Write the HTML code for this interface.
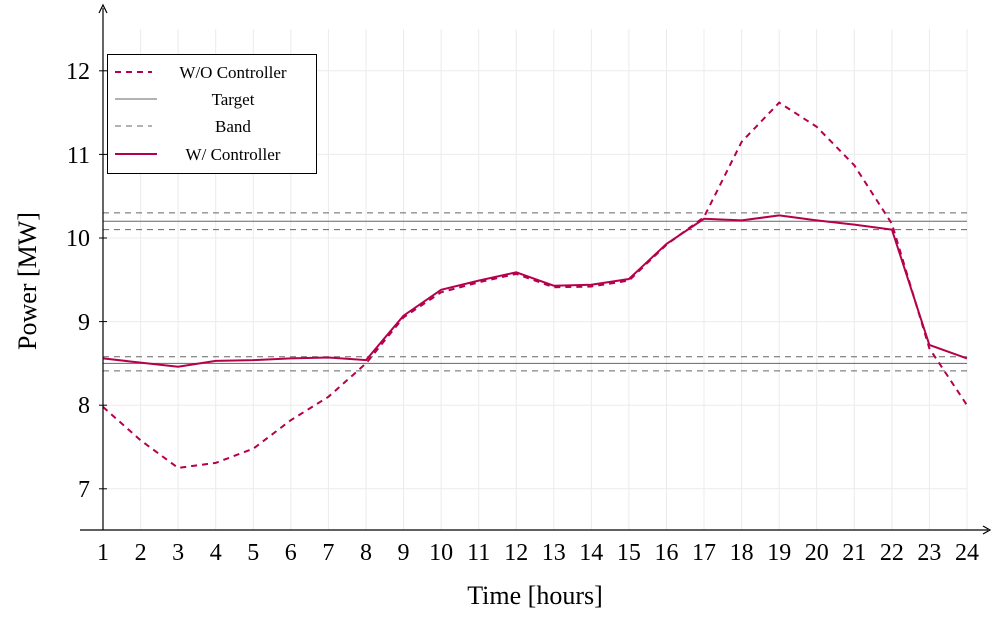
<!DOCTYPE html>
<html><head><style>body{margin:0;background:#fff}svg{display:block}</style></head><body>
<svg width="996" height="619" xmlns="http://www.w3.org/2000/svg" font-family="Liberation Serif, serif">
<g stroke="#ebebeb" stroke-width="1">
<line x1="103" y1="29" x2="103" y2="530"/><line x1="140.6" y1="29" x2="140.6" y2="530"/><line x1="178.1" y1="29" x2="178.1" y2="530"/><line x1="215.7" y1="29" x2="215.7" y2="530"/><line x1="253.3" y1="29" x2="253.3" y2="530"/><line x1="290.8" y1="29" x2="290.8" y2="530"/><line x1="328.4" y1="29" x2="328.4" y2="530"/><line x1="366" y1="29" x2="366" y2="530"/><line x1="403.5" y1="29" x2="403.5" y2="530"/><line x1="441.1" y1="29" x2="441.1" y2="530"/><line x1="478.7" y1="29" x2="478.7" y2="530"/><line x1="516.2" y1="29" x2="516.2" y2="530"/><line x1="553.8" y1="29" x2="553.8" y2="530"/><line x1="591.3" y1="29" x2="591.3" y2="530"/><line x1="628.9" y1="29" x2="628.9" y2="530"/><line x1="666.5" y1="29" x2="666.5" y2="530"/><line x1="704" y1="29" x2="704" y2="530"/><line x1="741.6" y1="29" x2="741.6" y2="530"/><line x1="779.2" y1="29" x2="779.2" y2="530"/><line x1="816.7" y1="29" x2="816.7" y2="530"/><line x1="854.3" y1="29" x2="854.3" y2="530"/><line x1="891.9" y1="29" x2="891.9" y2="530"/><line x1="929.4" y1="29" x2="929.4" y2="530"/><line x1="967" y1="29" x2="967" y2="530"/>
<line x1="103" y1="488.8" x2="967" y2="488.8"/><line x1="103" y1="405.2" x2="967" y2="405.2"/><line x1="103" y1="321.6" x2="967" y2="321.6"/><line x1="103" y1="238" x2="967" y2="238"/><line x1="103" y1="154.4" x2="967" y2="154.4"/><line x1="103" y1="70.8" x2="967" y2="70.8"/>
</g>
<g stroke="#666" stroke-width="1">
<line x1="103" y1="212.9" x2="967" y2="212.9" stroke-dasharray="6,5"/>
<line x1="103" y1="229.6" x2="967" y2="229.6" stroke-dasharray="6,5"/>
<line x1="103" y1="356.7" x2="967" y2="356.7" stroke-dasharray="6,5"/>
<line x1="103" y1="370.9" x2="967" y2="370.9" stroke-dasharray="6,5"/>
<line x1="103" y1="221.3" x2="967" y2="221.3"/>
<line x1="103" y1="363.4" x2="967" y2="363.4"/>
</g>
<polyline fill="none" stroke="#b5004b" stroke-width="2" stroke-dasharray="6,5" points="103,406.9 140.6,440.3 178.1,467.9 215.7,462.9 253.3,448.7 290.8,420.2 328.4,396.8 366,363.4 403.5,317.4 441.1,292.3 478.7,282.3 516.2,273.9 553.8,287.3 591.3,286.5 628.9,280.6 666.5,244.7 704,217.1 741.6,141.9 779.2,102.6 816.7,126.8 854.3,165.3 891.9,223.8 929.4,348.4 967,405.2"/>
<polyline fill="none" stroke="#b5004b" stroke-width="2" points="103,358.4 140.6,362.6 178.1,366.7 215.7,360.9 253.3,360.1 290.8,358.4 328.4,357.5 366,360.1 403.5,315.7 441.1,289.8 478.7,280.6 516.2,272.3 553.8,285.7 591.3,284.8 628.9,279 666.5,243.9 704,218.8 741.6,220.4 779.2,215.4 816.7,220.4 854.3,224.6 891.9,229.6 929.4,345 967,358.4"/>
<line x1="80" y1="530" x2="988" y2="530" stroke="#000" stroke-width="1.2"/>
<path d="M983,526 L990,530 L983,534" fill="none" stroke="#000" stroke-width="1.2"/>
<line x1="103" y1="530" x2="103" y2="8" stroke="#000" stroke-width="1.2"/>
<path d="M99,13 L103,5 L107,13" fill="none" stroke="#000" stroke-width="1.2"/>
<g stroke="#000">
<line x1="99" y1="488.8" x2="107" y2="488.8"/><line x1="99" y1="405.2" x2="107" y2="405.2"/><line x1="99" y1="321.6" x2="107" y2="321.6"/><line x1="99" y1="238" x2="107" y2="238"/><line x1="99" y1="154.4" x2="107" y2="154.4"/><line x1="99" y1="70.8" x2="107" y2="70.8"/>
</g>
<g font-size="24" text-anchor="end">
<text x="90" y="497">7</text><text x="90" y="413">8</text><text x="90" y="330">9</text><text x="90" y="246">10</text><text x="90" y="163">11</text><text x="90" y="79">12</text>
</g>
<g font-size="24" text-anchor="middle">
<text x="103" y="560">1</text><text x="140.6" y="560">2</text><text x="178.1" y="560">3</text><text x="215.7" y="560">4</text><text x="253.3" y="560">5</text><text x="290.8" y="560">6</text><text x="328.4" y="560">7</text><text x="366" y="560">8</text><text x="403.5" y="560">9</text><text x="441.1" y="560">10</text><text x="478.7" y="560">11</text><text x="516.2" y="560">12</text><text x="553.8" y="560">13</text><text x="591.3" y="560">14</text><text x="628.9" y="560">15</text><text x="666.5" y="560">16</text><text x="704" y="560">17</text><text x="741.6" y="560">18</text><text x="779.2" y="560">19</text><text x="816.7" y="560">20</text><text x="854.3" y="560">21</text><text x="891.9" y="560">22</text><text x="929.4" y="560">23</text><text x="967" y="560">24</text>
</g>
<text x="535" y="604" font-size="26" text-anchor="middle">Time [hours]</text>
<text transform="translate(36,281) rotate(-90)" font-size="26" text-anchor="middle">Power [MW]</text>
<rect x="107.5" y="54.5" width="209" height="119" fill="#fff" stroke="#000" stroke-width="1"/>
<line x1="115" y1="72" x2="152" y2="72" stroke="#b5004b" stroke-width="2" stroke-dasharray="6,5"/>
<line x1="115" y1="99" x2="157" y2="99" stroke="#666" stroke-width="1"/>
<line x1="115" y1="126" x2="152" y2="126" stroke="#666" stroke-width="1" stroke-dasharray="6,5"/>
<line x1="115" y1="154" x2="157" y2="154" stroke="#b5004b" stroke-width="2"/>
<g font-size="17" text-anchor="middle">
<text x="233" y="78">W/O Controller</text>
<text x="233" y="105">Target</text>
<text x="233" y="132">Band</text>
<text x="233" y="160">W/ Controller</text>
</g>
</svg>
</body></html>
